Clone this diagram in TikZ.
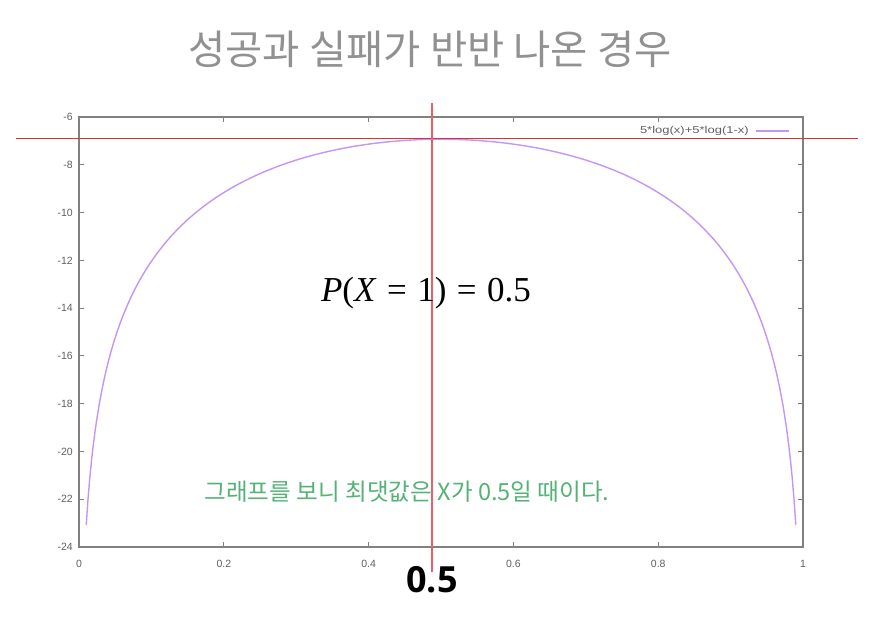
\documentclass[tikz,border=0pt]{standalone}
\usepackage{fontspec}
\setmainfont{Liberation Sans}
\newfontfamily\krfont{Noto Sans CJK KR}
\newfontfamily\bigfont{Open Sans}
\newfontfamily\mathish{Liberation Serif}
\definecolor{titlegray}{RGB}{145,145,145}
\definecolor{axisgray}{RGB}{128,128,128}
\definecolor{ticklab}{RGB}{95,95,95}
\definecolor{curvevio}{RGB}{195,150,245}
\definecolor{redh}{RGB}{215,50,55}
\definecolor{redv}{RGB}{232,95,105}
\definecolor{txtgreen}{RGB}{85,178,118}
\newcommand{\msp}{\hspace{0.3em}}
\newcommand{\cx}[1]{\fpeval{79+724*(#1)}}
\newcommand{\cy}[1]{\fpeval{117+(-6-(5*ln(#1)+5*ln(1-(#1))))*23.889}}
\begin{document}
\begin{tikzpicture}[x=1pt,y=-1pt,
  axisline/.style={draw=axisgray,line width=1.4pt},
  tickmark/.style={draw=axisgray,line width=1pt},
  ylab/.style={anchor=east,inner sep=0pt,text=ticklab,font=\fontsize{10.5}{12}\selectfont},
  xlab/.style={anchor=center,inner sep=0pt,text=ticklab,font=\fontsize{10.5}{12}\selectfont},
  curve/.style={draw=curvevio,line width=1.4pt,line join=round},
  hline/.style={draw=redh,line width=1.1pt},
  vline/.style={draw=redv,line width=1.6pt}]
\useasboundingbox (0,0) rectangle (882,622);
% frame
\draw[axisline] (79,117) rectangle (803,547);
% y ticks
\foreach \k/\lab in {0/-6,1/-8,2/-10,3/-12,4/-14,5/-16,6/-18,7/-20,8/-22,9/-24}{
  \pgfmathsetmacro{\yy}{117+\k*47.78}
  \draw[tickmark] (79,\yy) -- (84,\yy);
  \draw[tickmark] (803,\yy) -- (798,\yy);
  \node[ylab] (yl\k) at (73,\yy) {\lab};
}
% x ticks
\foreach \k/\lab in {0/0,1/0.2,2/0.4,3/0.6,4/0.8,5/1}{
  \pgfmathsetmacro{\xx}{79+\k*144.8}
  \draw[tickmark] (\xx,547) -- (\xx,542);
  \draw[tickmark] (\xx,117) -- (\xx,122);
  \node[xlab] (xl\k) at (\xx,564) {\lab};
}
% curve
\draw[curve] (\cx{0.01},\cy{0.01})
  \foreach \i in {1,...,392}{ -- (\cx{0.01+\i*0.0025},\cy{0.01+\i*0.0025}) };
% legend
\node[anchor=east,inner sep=0pt,text=ticklab,font=\fontsize{10}{12}\selectfont,xscale=1.3] (leg) at (749,131) {5*log(x)+5*log(1-x)};
\coordinate (legA) at (756,131);
\coordinate (legB) at (789,131);
\draw[curve] (legA) -- (legB);
% red lines
\coordinate (hL) at (16,138.5);
\coordinate (hR) at (858,138.5);
\draw[hline] (hL) -- (hR);
\coordinate (vT) at (432,103);
\coordinate (vB) at (432,572);
\draw[vline] (vT) -- (vB);
% texts
\node[text=titlegray,font=\krfont\fontsize{40.5}{44}\selectfont] (title) at (430,49) {성공과 실패가 반반 나온 경우};
\node[font=\mathish\fontsize{35}{40}\selectfont] (peq) at (426,293) {\textit{P}(\textit{X}\msp=\msp1)\msp=\msp0.5};
\node[text=txtgreen,font=\krfont\fontsize{23.6}{28}\selectfont] (note) at (407,492) {그래프를 보니 최댓값은 X가 0.5일 때이다.};
\node[font=\bigfont\bfseries\fontsize{36}{40}\selectfont] (half) at (432,580) {0.5};
\end{tikzpicture}
\end{document}
